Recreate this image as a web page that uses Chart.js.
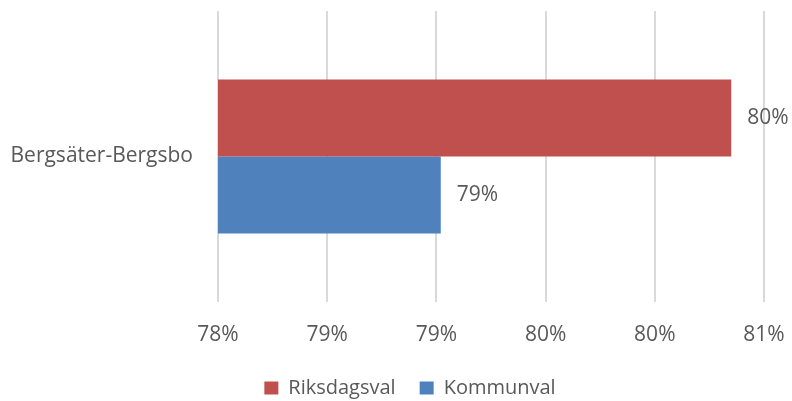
<!DOCTYPE html>
<html>
<head>
<meta charset="utf-8">
<script src="https://cdn.jsdelivr.net/npm/chart.js@4"></script>
<style>
  html, body { margin: 0; padding: 0; background: #fff; }
  #wrap { width: 792px; height: 401px; }
</style>
</head>
<body>
<div id="wrap"><canvas id="chart"></canvas></div>
<script>
// Chart data (values in percent)
const categories = ['Bergsäter-Bergsbo'];
const riksdagsval = [80.35];
const kommunval = [79.02];
const seriesNames = ['Riksdagsval', 'Kommunval'];
const axisMin = 78;
const axisMax = 80.5;
const axisStep = 0.5;

const textColor = '#595959';
const fontFamily = "'Open Sans', 'Noto Sans', sans-serif";
const fontSize = 21;

// draws the value next to each bar end
const valueLabels = {
    id: 'valueLabels',
    afterDatasetsDraw(chart) {
        const ctx = chart.ctx;
        ctx.save();
        ctx.font = fontSize + 'px ' + fontFamily;
        ctx.fillStyle = textColor;
        ctx.textAlign = 'left';
        ctx.textBaseline = 'middle';
        chart.data.datasets.forEach((ds, i) => {
            chart.getDatasetMeta(i).data.forEach((bar, j) => {
                ctx.fillText(Math.round(ds.data[j]) + '%', bar.x + 16, bar.y);
            });
        });
        ctx.restore();
    }
};

// nudge the legend a bit to the right, as in the original
const legendShift = {
    id: 'legendShift',
    afterLayout(chart) {
        if (chart.legend) chart.legend.left += 28;
    }
};

new Chart(document.getElementById('chart'), {
    type: 'bar',
    data: {
        labels: categories,
        datasets: [{
            label: seriesNames[0],
            data: riksdagsval,
            backgroundColor: '#C0504D',
            borderWidth: 0,
            categoryPercentage: 0.53,
            barPercentage: 1
        }, {
            label: seriesNames[1],
            data: kommunval,
            backgroundColor: '#4F81BD',
            borderWidth: 0,
            categoryPercentage: 0.53,
            barPercentage: 1
        }]
    },
    options: {
        indexAxis: 'y',
        responsive: true,
        maintainAspectRatio: false,
        animation: false,
        layout: { padding: { top: 11, left: 0, right: 0, bottom: -7 } },
        scales: {
            x: {
                min: axisMin,
                max: axisMax,
                grid: { color: '#D9D9D9', lineWidth: 2, drawTicks: false },
                border: { display: false },
                ticks: {
                    stepSize: axisStep,
                    padding: 20,
                    color: textColor,
                    font: { family: fontFamily, size: fontSize },
                    callback: v => Math.round(v) + '%'
                },
                afterFit: scale => {
                    scale.height = 52;
                    scale.paddingLeft = 0;
                    scale.paddingRight = 28;
                }
            },
            y: {
                grid: { display: false, drawTicks: false },
                border: { display: false },
                ticks: {
                    padding: 25,
                    color: textColor,
                    font: { family: fontFamily, size: fontSize }
                },
                afterFit: scale => {
                    scale.width = 218;
                    scale.paddingTop = 0;
                    scale.paddingBottom = 0;
                }
            }
        },
        plugins: {
            legend: {
                position: 'bottom',
                labels: {
                    boxWidth: 14,
                    boxHeight: 13,
                    padding: 24,
                    color: textColor,
                    font: { family: fontFamily, size: 20 }
                }
            },
            tooltip: { enabled: false }
        }
    },
    plugins: [valueLabels, legendShift]
});
</script>
</body>
</html>
